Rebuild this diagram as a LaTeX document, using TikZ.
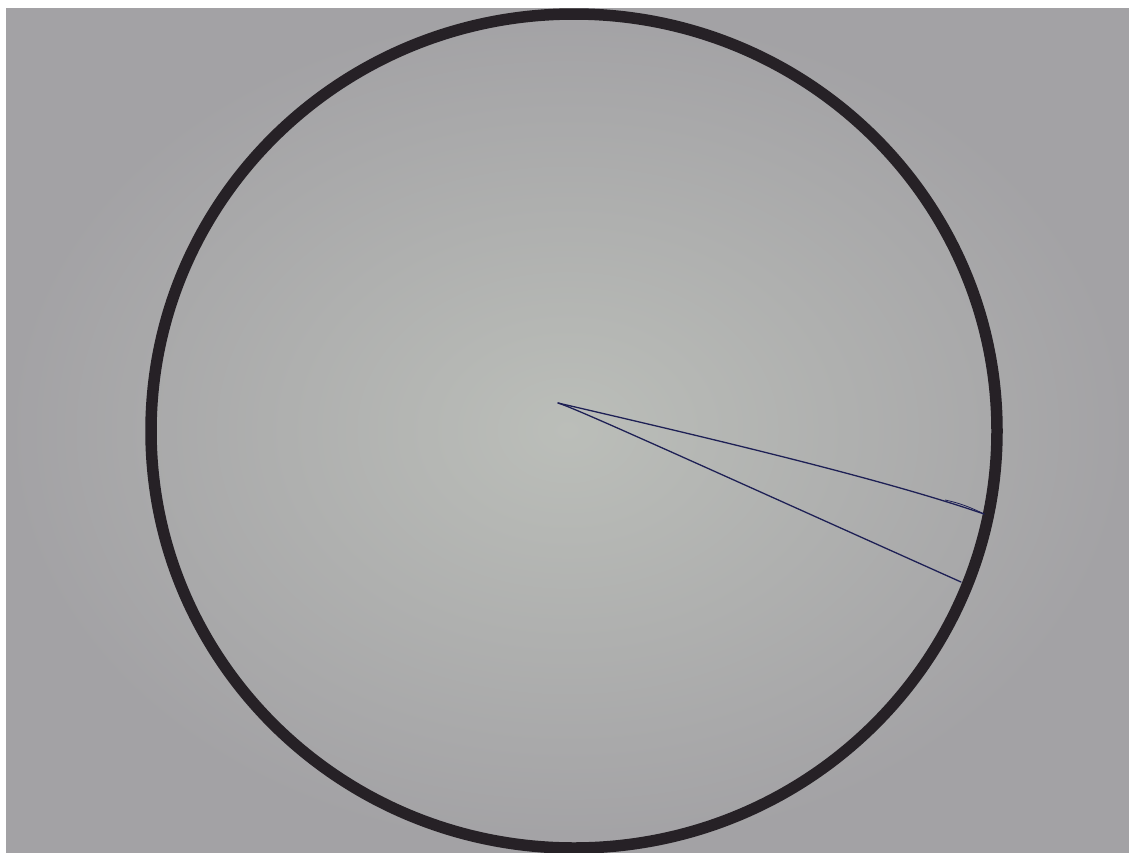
\documentclass[tikz,border=0pt]{standalone}
\begin{document}
\definecolor{paperin}{RGB}{187,190,185}
\definecolor{paperout}{RGB}{163,162,165}
\definecolor{ink}{RGB}{38,33,38}
\definecolor{pen}{RGB}{30,32,85}
\begin{tikzpicture}[x=1pt,y=-1pt,
  rim/.style={draw=ink,line width=11.5pt},
  penline/.style={draw=pen,line width=1.3pt,line cap=round}]
\useasboundingbox (0,0) rectangle (1129,852);
\fill[white] (0,0) rectangle (1129,852);
\shade[inner color=paperin,outer color=paperout] (6,8) rectangle (1129,852);
% hand-drawn circle
\coordinate (o) at (574,431);
\draw[rim] (o) ellipse [x radius=423, y radius=417];
% centre point and the two pen lines
\coordinate (c) at (558,403);
\coordinate (a) at (984,514);
\coordinate (b) at (961,582);
\draw[penline] (c) .. controls (700,436) and (880,478) .. (a);
\draw[penline] (c) .. controls (575,408) and (700,465) .. (b);
\draw[pen,line width=0.8pt] (945,500) .. controls (960,503) and (972,508) .. (a);
\end{tikzpicture}
\end{document}
